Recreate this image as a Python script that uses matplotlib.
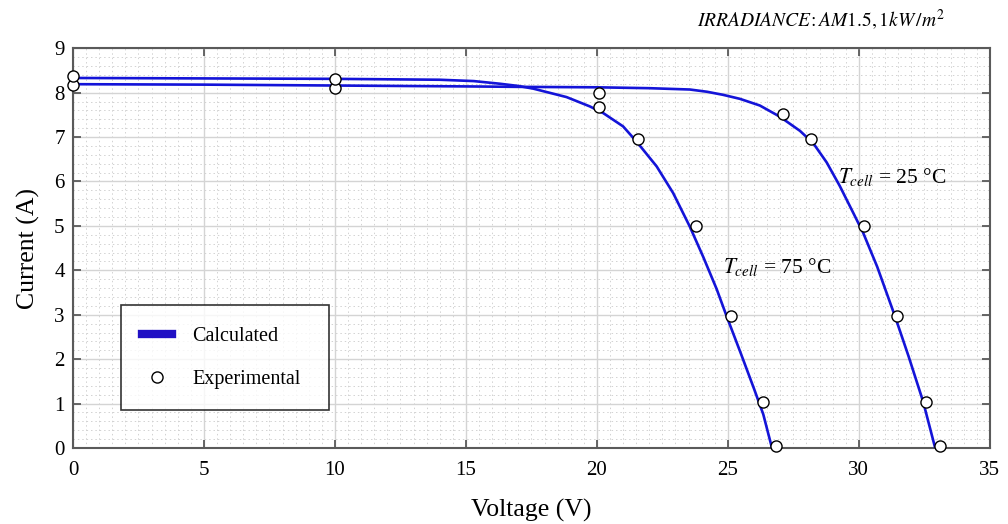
import matplotlib.pyplot as plt
from matplotlib.lines import Line2D
from matplotlib.ticker import MultipleLocator

plt.rcParams['font.family'] = ['Liberation Serif', 'DejaVu Serif']
plt.rcParams['mathtext.fontset'] = 'stix'

# calculated curves
calc_v_25 = [0, 5, 10, 15, 17, 20, 22, 23.55, 24.2, 24.82, 25.46, 26.22, 26.98, 27.75, 28.26,
             28.77, 29.27, 29.78, 30.16, 30.7, 31.37, 31.9, 32.45, 32.9]
calc_i_25 = [8.19, 8.18, 8.16, 8.14, 8.13, 8.12, 8.10, 8.07, 8.02, 7.95, 7.86, 7.71, 7.46, 7.14, 6.86,
             6.43, 5.9, 5.3, 4.85, 4.08, 2.98, 2.06, 1.05, 0.03]
calc_v_75 = [0, 5, 10, 14, 15.3, 16.3, 17.0, 17.57, 18.84, 19.73, 20.24, 21.0, 21.51, 22.28, 22.91,
             23.55, 24.06, 24.57, 24.95, 25.5, 26.0, 26.35, 26.67]
calc_i_75 = [8.33, 8.32, 8.31, 8.29, 8.26, 8.2, 8.15, 8.09, 7.9, 7.69, 7.54, 7.24, 6.9, 6.34, 5.74,
             4.98, 4.3, 3.58, 2.97, 2.12, 1.33, 0.76, 0.03]

# experimental points
exp_v_25 = [0, 10, 20.09, 27.11, 28.16, 30.19, 31.44, 32.58, 33.08]
exp_i_25 = [8.17, 8.1, 8.0, 7.51, 6.95, 5.0, 2.98, 1.03, 0.05]
exp_v_75 = [0, 10, 20.09, 21.58, 23.8, 25.11, 26.35, 26.82]
exp_i_75 = [8.37, 8.3, 7.68, 6.95, 5.0, 2.98, 1.03, 0.05]

BLUE = '#1414d8'
EDGE = '#5a5a5a'

fig = plt.figure(figsize=(10.08, 5.24), dpi=100)
ax = fig.add_axes([0.0724, 0.145, 0.9096, 0.763])

ax.plot(calc_v_25, calc_i_25, color=BLUE, lw=1.9, zorder=3, solid_joinstyle='round')
ax.plot(calc_v_75, calc_i_75, color=BLUE, lw=1.9, zorder=3, solid_joinstyle='round')
for v, i in [(exp_v_25, exp_i_25), (exp_v_75, exp_i_75)]:
    ax.plot(v, i, 'o', ms=8, mfc='white', mec='black', mew=1.0, ls='none', clip_on=False, zorder=4)

ax.set_xlim(0, 35)
ax.set_ylim(0, 9)
ax.xaxis.set_major_locator(MultipleLocator(5))
ax.xaxis.set_minor_locator(MultipleLocator(0.5))
ax.yaxis.set_major_locator(MultipleLocator(1))
ax.yaxis.set_minor_locator(MultipleLocator(0.2))
ax.grid(which='major', color='#d4d4d4', lw=1.0, ls='-')
ax.grid(which='minor', color='#d2d2d2', lw=0.7, ls=(0, (1.5, 3)))
ax.set_axisbelow(True)

ax.tick_params(which='major', direction='in', length=6, width=1.3, color=EDGE,
               top=True, right=True, labelsize=15, pad=9)
ax.tick_params(axis='y', which='major', pad=6)
ax.tick_params(which='minor', length=0)
for s in ax.spines.values():
    s.set_color(EDGE)
    s.set_linewidth(1.5)

ax.set_xlabel('Voltage (V)', fontsize=18.5, labelpad=14)
ax.set_ylabel('Current (A)', fontsize=18.5, labelpad=10)

ax.text(29.2, 6.1, r'$T_{cell}$ = 25 °C', fontsize=15.5, va='center', ha='left')
ax.text(24.8, 4.07, r'$T_{cell}$ = 75 °C', fontsize=15.5, va='center', ha='left')

fig.text(0.938, 0.962, r'$IRRADIANCE\!:AM1.5,1kW\,/m^{2}$', fontsize=14, ha='right', va='center')

handles = [Line2D([], [], color='#2010c4', lw=6),
           Line2D([], [], marker='o', ls='none', ms=8, mfc='white', mec='black', mew=1.0)]
leg = ax.legend(handles, ['Calculated', 'Experimental'], loc='lower left',
                bbox_to_anchor=(0.052, 0.095, 0.227, 0.27), mode='expand',
                fontsize=14.5, frameon=True, fancybox=False, borderpad=1.05,
                labelspacing=1.2, handlelength=1.5, handletextpad=1.0, borderaxespad=0)
leg.get_frame().set_edgecolor('black')
leg.get_frame().set_linewidth(1.2)

fig.savefig('out.png', dpi=100)
